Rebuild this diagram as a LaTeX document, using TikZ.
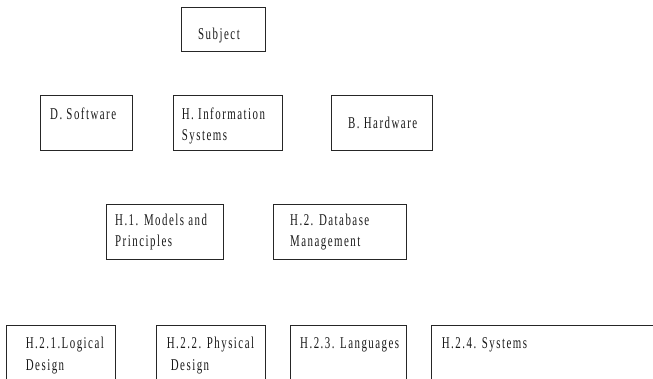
\documentclass[tikz,border=0pt]{standalone}
\usepackage{fontspec}
\setmainfont{Liberation Serif}[FakeStretch=0.66,LetterSpace=9]
\begin{document}
\begin{tikzpicture}[x=1pt,y=-1pt,
  box/.style={draw=black!85,line width=1pt,inner sep=0pt,rectangle},
  lbl/.style={anchor=base west,inner sep=0pt,font=\fontsize{16.5}{21}\selectfont,text=black!90}]
\useasboundingbox (0,0) rectangle (653,378);
\clip (0,0) rectangle (653,378);
% boxes
\node[box,minimum width=83.5pt,minimum height=44pt] (subj) at (223.25,29.5) {};
\node[box,minimum width=92pt,minimum height=55pt] (soft) at (86,122.5) {};
\node[box,minimum width=109pt,minimum height=55pt] (info) at (227.5,122.5) {};
\node[box,minimum width=100.5pt,minimum height=55pt] (hard) at (381.75,122.5) {};
\node[box,minimum width=116.6pt,minimum height=55pt] (h1) at (165,231.8) {};
\node[box,minimum width=133.4pt,minimum height=55pt] (h2) at (340,231.8) {};
\node[box,minimum width=108.3pt,minimum height=75pt] (h21) at (60.85,362.5) {};
\node[box,minimum width=108.3pt,minimum height=75pt] (h22) at (210.85,362.5) {};
\node[box,minimum width=116.7pt,minimum height=75pt] (h23) at (348.35,362.5) {};
\node[box,minimum width=268.3pt,minimum height=75pt] (h24) at (565.85,362.5) {};
% labels
\node[lbl] (subjt) at (198,39) {Subject};
\node[lbl] (softt) at (50,119) {D. Software};
\node[lbl] (infot1) at (181.7,119) {H. Information};
\node[lbl] (infot2) at (181.7,140) {Systems};
\node[lbl] (hardt) at (348,128) {B. Hardware};
\node[lbl] (h1t1) at (115,225.7) {H.1. Models and};
\node[lbl] (h1t2) at (115,246.7) {Principles};
\node[lbl] (h2t1) at (290,225.7) {H.2. Database};
\node[lbl] (h2t2) at (290,246.7) {Management};
\node[lbl] (h21t1) at (25.7,348) {H.2.1.Logical};
\node[lbl] (h21t2) at (25.7,370) {Design};
\node[lbl] (h22t1) at (166.7,348) {H.2.2. Physical};
\node[lbl] (h22t2) at (170.7,370) {Design};
\node[lbl] (h23t) at (300,348) {H.2.3. Languages};
\node[lbl] (h24t) at (441.7,348) {H.2.4. Systems};
\end{tikzpicture}
\end{document}
